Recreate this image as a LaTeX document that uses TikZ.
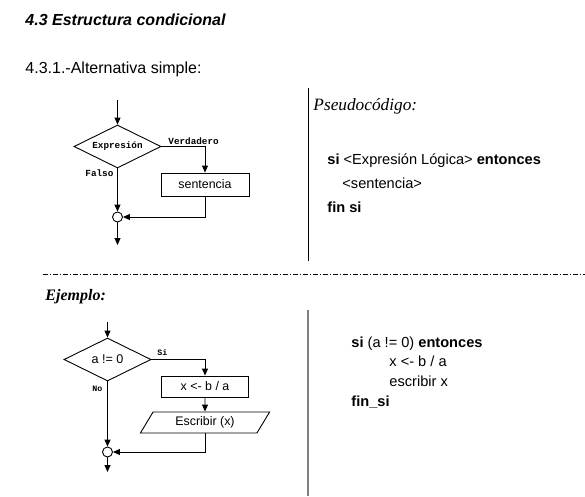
\documentclass[tikz,border=0pt]{standalone}
\usepackage{fontspec}
\setmainfont{Liberation Serif}
\setsansfont{Liberation Sans}
\setmonofont{Liberation Mono}
\usetikzlibrary{arrows.meta,shapes.geometric}
\begin{document}
\begin{tikzpicture}[x=1pt,y=-1pt,line width=0.9pt,
  arr/.style={-{Triangle[length=7pt,width=6pt]}},
  cond/.style={diamond,draw,aspect=2,inner sep=0pt,minimum width=87pt,minimum height=43pt},
  procbox/.style={draw,rectangle,inner sep=0pt,minimum width=88pt,minimum height=23pt,font=\fontsize{12.4}{14}\sffamily},
  iobox/.style={draw,trapezium,trapezium left angle=58,trapezium right angle=122,trapezium stretches=true,inner sep=0pt,minimum width=130pt,minimum height=21pt,font=\fontsize{12.4}{14}\sffamily},
  joint/.style={draw,circle,minimum size=10pt,inner sep=0pt},
  lbl/.style={anchor=base west,inner sep=0pt},
  codefont/.style={font=\fontsize{14.6}{17}\sffamily},
  small/.style={font=\fontsize{9.3}{10}\ttfamily\bfseries},
  tiny/.style={font=\fontsize{8.3}{9}\ttfamily\bfseries}]
\useasboundingbox (0,0) rectangle (585,496);

% headings
\node[lbl,font=\fontsize{16}{18}\sffamily\bfseries\itshape] (title) at (25,25) {4.3 Estructura condicional};
\node[lbl,font=\fontsize{16}{18}\sffamily] (sub) at (25,73.5) {4.3.1.-Alternativa simple:};

% separators
\draw[line width=0.8pt] (308,88) -- (308,261);
\draw[line width=0.8pt,dash pattern=on 5pt off 2pt on 1pt off 2pt] (43,274) -- (585,274);
\draw[line width=1.3pt,gray] (308,310) -- (308,496);

% first flowchart
\coordinate (s1) at (117.5,100);
\node[cond,font=\fontsize{9.3}{10}\ttfamily\bfseries] (d1) at (117.5,146.5) {Expresión};
\node[procbox] (b1) at (205,184.5) {sentencia};
\node[joint] (c1) at (117.5,217) {};
\coordinate (e1) at (117.5,245);
\draw[arr] (s1) -- (d1.north);
\draw[arr] (d1.east) -| (b1.north);
\draw[arr] (d1.south) -- (c1.north);
\draw[arr] (b1.south) |- (c1.east);
\draw[arr] (c1.south) -- (e1);
\node[lbl,small] (ver) at (168,144) {Verdadero};
\node[lbl,small] (fal) at (85,176.5) {Falso};

% first pseudocode
\node[lbl,font=\fontsize{17.3}{20}\rmfamily\itshape] (ps) at (313,110) {Pseudocódigo:};
\node[lbl,codefont] (p1) at (327,164) {\textbf{si} <Expresión Lógica> \textbf{entonces}};
\node[lbl,codefont] (p2) at (342,188.3) {<sentencia>};
\node[lbl,codefont] (p3) at (327,212.7) {\textbf{fin si}};

% example heading
\node[lbl,font=\fontsize{16}{18}\rmfamily\bfseries\itshape] (ej) at (45,300) {Ejemplo:};

% second flowchart
\coordinate (s2) at (107.5,322);
\node[cond,font=\fontsize{12.6}{14}\sffamily] (d2) at (107.5,359.5) {a != 0};
\node[procbox,minimum width=87pt,minimum height=21pt] (b2) at (205,386.5) {x <- b / a};
\node[iobox] (w2) at (205,422.5) {Escribir (x)};
\node[joint] (c2) at (107.5,452) {};
\coordinate (e2) at (107.5,472);
\draw[arr] (s2) -- (d2.north);
\draw[arr] (d2.east) -| (b2.north);
\draw[arr] (b2.south) -- (w2.north);
\draw[arr] (d2.south) -- (c2.north);
\draw[arr] (w2.south) |- (c2.east);
\draw[arr] (c2.south) -- (e2);
\node[lbl,tiny] (si) at (157,355.7) {Si};
\node[lbl,tiny] (no) at (92,391.7) {No};

% second pseudocode
\node[lbl,codefont] (q1) at (351,347.3) {\textbf{si} (a != 0) \textbf{entonces}};
\node[lbl,codefont] (q2) at (389,366.7) {x <- b / a};
\node[lbl,codefont] (q3) at (389,386.7) {escribir x};
\node[lbl,codefont] (q4) at (351,406.7) {\textbf{fin\_si}};
\end{tikzpicture}
\end{document}
